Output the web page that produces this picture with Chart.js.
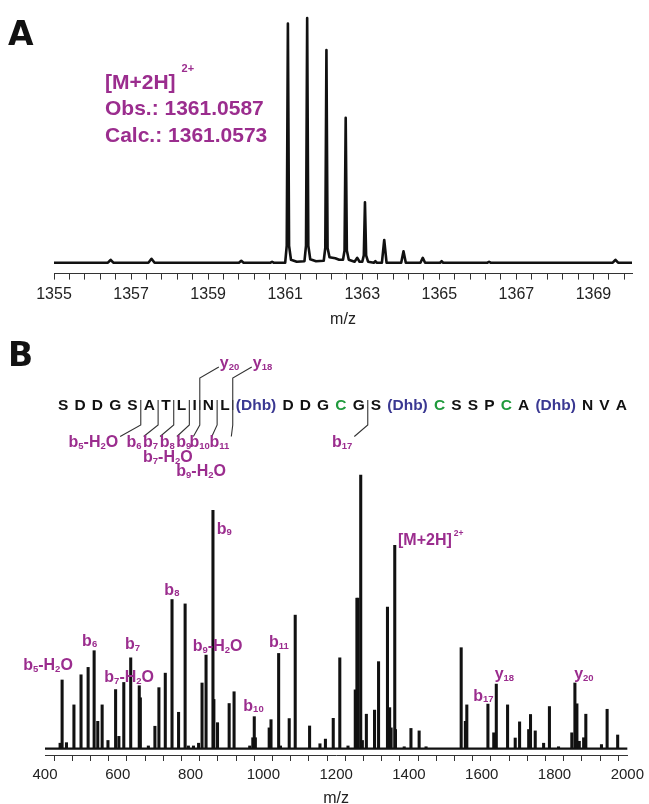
<!DOCTYPE html>
<html>
<head>
<meta charset="utf-8">
<script src="https://cdn.jsdelivr.net/npm/chart.js@4.4.1/dist/chart.umd.min.js"></script>
<style>
html, body { margin:0; padding:0; background:#fff; overflow:hidden; }
#wrap { position:relative; width:649px; height:804px; overflow:hidden; }
canvas { position:absolute; left:0; }
#chartA { top:0; }
#chartB { top:320px; }
</style>
</head>
<body>
<div id="wrap">
<canvas id="chartA" width="649" height="332"></canvas>
<canvas id="chartB" width="649" height="488"></canvas>
</div>
<script>
// panel A: isotope cluster of [M+2H]2+ (relative intensity)
var mzA = [1355.0,
    1356.40, 1356.47, 1356.54,
    1357.45, 1357.53, 1357.61,
    1359.80, 1359.86, 1359.92,
    1360.62, 1360.66, 1360.70,
    1361.00, 1361.04, 1361.07, 1361.10, 1361.15, 1361.30,
    1361.50, 1361.54, 1361.57, 1361.60, 1361.65, 1361.80,
    1362.00, 1362.04, 1362.07, 1362.10, 1362.15, 1362.30, 1362.40,
    1362.50, 1362.54, 1362.57, 1362.60, 1362.65, 1362.80, 1362.87, 1362.93,
    1363.00, 1363.04, 1363.07, 1363.10, 1363.15, 1363.30, 1363.34, 1363.38,
    1363.51, 1363.57, 1363.63,
    1364.01, 1364.07, 1364.13,
    1364.51, 1364.57, 1364.63,
    1365.02, 1365.06, 1365.10,
    1366.25, 1366.29, 1366.33,
    1369.50, 1369.57, 1369.64,
    1370.0];
var intA = [0,
    0, 0.012, 0,
    0, 0.016, 0,
    0, 0.008, 0,
    0, 0.004, 0,
    0, 0.07, 0.977, 0.07, 0.012, 0.004,
    0.006, 0.07, 1.0, 0.07, 0.014, 0.006,
    0.008, 0.06, 0.869, 0.06, 0.022, 0.018, 0.012,
    0.012, 0.05, 0.592, 0.05, 0.012, 0.004, 0.02, 0.004,
    0.004, 0.03, 0.247, 0.03, 0.004, 0, 0.006, 0,
    0, 0.093, 0,
    0, 0.047, 0,
    0, 0.02, 0,
    0, 0.006, 0,
    0, 0.004, 0,
    0, 0.012, 0,
    0];
var tickLabelsA = [1355, 1357, 1359, 1361, 1363, 1365, 1367, 1369];

// panel B: MS/MS spectrum (percent of base peak)
var mzB = [441.5, 447, 459, 479.5, 499, 518.5, 535, 545, 557, 573,
    594, 603, 616.5, 635.5, 659, 662, 684, 702, 713, 730.5,
    749, 767, 785, 794, 808, 822, 831.5, 842.5, 861.5, 864,
    874, 906, 919.5, 962.5, 971, 975, 978, 1016, 1021, 1042,
    1047, 1071, 1087.5, 1127, 1155.5, 1170.5, 1192, 1210, 1232.5, 1252.5,
    1257, 1260, 1267.5, 1272, 1283, 1305.5, 1316.5, 1341, 1347, 1351,
    1361, 1363, 1387, 1405.5, 1428, 1447, 1543.5, 1555, 1559, 1617,
    1633, 1640, 1671, 1692, 1704, 1729, 1734, 1747, 1770, 1786,
    1811, 1847.5, 1856, 1861.5, 1868, 1880, 1886, 1929, 1944.5, 1973.5];
var intB = [2, 25.1, 2.2, 16, 27, 29.7, 35.8, 10, 16, 3,
    21.6, 4.5, 24.2, 33.2, 23, 18.6, 1, 8.2, 22.3, 27.6,
    54.5, 13.3, 52.9, 1, 1, 2, 24, 34.2, 87.1, 18,
    9.5, 16.5, 20.8, 1, 4, 11.7, 4, 7.6, 10.6, 34.8,
    1, 11, 48.8, 8.3, 1.8, 3.5, 11.1, 33.2, 1, 21.5,
    55, 55, 100, 3, 12.6, 14.1, 31.8, 51.7, 15, 7.6,
    74.3, 7, 0.7, 7.4, 6.5, 0.7, 36.9, 10, 16, 16.3,
    5.8, 23.6, 16, 3.9, 9.8, 7, 12.5, 6.5, 2, 15.4,
    0.7, 5.8, 24, 16.4, 2.7, 4, 12.6, 1.5, 14.4, 5];
var tickLabelsB = [400, 600, 800, 1000, 1200, 1400, 1600, 1800, 2000];

// peptide sequence and fragment ions
var residues = ['S','D','D','G','S','A','T','L','I','N','L','(Dhb)','D','D','G','C','G','S','(Dhb)','C','S','S','P','C','A','(Dhb)','N','V','A'];
var bIonNames = ['b_5-H_2O', 'b_6', 'b_7', 'b_8', 'b_9', 'b_10', 'b_11', 'b_17'];
var bIonCuts = [5, 6, 7, 8, 9, 10, 11, 17];
var yIonNames = ['y_20', 'y_18'];
var yIonCuts = [9, 11];

var FONT = '"Liberation Sans", Arial, Helvetica, sans-serif';
var PURPLE = '#9b2d8e';
Chart.defaults.font.family = FONT;
Chart.defaults.color = '#222';

function parseRich(str) {
    var parts = [], buf = '', i = 0;
    while (i < str.length) {
        var c = str[i];
        if (c === '_') {
            if (buf) parts.push([buf, 'n']);
            buf = ''; i++;
            var s = '';
            while (i < str.length && /[0-9]/.test(str[i])) { s += str[i]; i++; }
            parts.push([s, 's']);
        } else if (c === '^') {
            if (buf) parts.push([buf, 'n']);
            buf = '';
            parts.push([str.slice(i + 1), 'p']);
            i = str.length;
        } else { buf += c; i++; }
    }
    if (buf) parts.push([buf, 'n']);
    return parts;
}

function drawRich(ctx, str, x, y, st) {
    ctx.save();
    ctx.fillStyle = st.color;
    ctx.textAlign = 'left';
    ctx.textBaseline = 'alphabetic';
    parseRich(str).forEach(function(p){
        if (p[1] === 'n') {
            ctx.font = 'bold ' + st.size + 'px ' + FONT;
            ctx.fillText(p[0], x, y);
        } else if (p[1] === 's') {
            ctx.font = 'bold ' + st.subSize + 'px ' + FONT;
            ctx.fillText(p[0], x, y + st.subDrop);
        } else {
            x += st.supGap;
            ctx.font = 'bold ' + st.supSize + 'px ' + FONT;
            ctx.fillText(p[0], x, y - st.supRise);
        }
        x += ctx.measureText(p[0]).width;
    });
    ctx.restore();
    return x;
}

var ionStyle = {size:16, subSize:9.5, subDrop:1.5, supSize:8.5, supRise:9, supGap:2, color:PURPLE};

function panelLetter(ctx, letter, x, y) {
    ctx.save();
    ctx.fillStyle = '#111';
    ctx.font = 'bold 33px "DejaVu Sans", ' + FONT;
    ctx.fillText(letter, x, y);
    ctx.restore();
}

var annotA = {
    id: 'annotA',
    afterDraw: function(chart){
        var ctx = chart.ctx;
        panelLetter(ctx, 'A', 8, 45);
        var st = {size:21, subSize:12, subDrop:2, supSize:11, supRise:17, supGap:6, color:PURPLE};
        drawRich(ctx, '[M+2H]^2+', 105, 89, st);
        drawRich(ctx, 'Obs.: 1361.0587', 105, 114.5, st);
        drawRich(ctx, 'Calc.: 1361.0573', 105, 141.5, st);
    }
};

// spectrum annotations: label text anchored at (m/z, % intensity) of its baseline-left corner
var notesB = [
    {t:'b_5-H_2O', mz:340, y:28.7},
    {t:'b_6', mz:502, y:37.7},
    {t:'b_7', mz:619.5, y:36.4},
    {t:'b_7-H_2O', mz:563, y:24.2},
    {t:'b_8', mz:728, y:56.2},
    {t:'b_9', mz:872, y:78.6},
    {t:'b_9-H_2O', mz:806, y:35.6},
    {t:'b_10', mz:945, y:13.8},
    {t:'b_11', mz:1015.6, y:37},
    {t:'[M+2H]^2+', mz:1370, y:74.3},
    {t:'b_17', mz:1576.8, y:17.5},
    {t:'y_18', mz:1635.6, y:25.4},
    {t:'y_20', mz:1854, y:25.4}
];

function drawSequence(ctx) {
    var top = 320;             // canvas offset on the page
    var base = 410 - top;      // sequence text baseline
    var x0 = 58, x1 = 627;
    ctx.save();
    ctx.font = 'bold 15.5px ' + FONT;
    var widths = residues.map(function(r){ return ctx.measureText(r).width; });
    var total = widths.reduce(function(a, b){ return a + b; }, 0);
    var gap = (x1 - x0 - total) / (residues.length - 1);
    var lefts = [], x = x0;
    residues.forEach(function(r, i){
        lefts.push(x);
        ctx.fillStyle = r === 'C' ? '#1f9a3c' : (r === '(Dhb)' ? '#3a3892' : '#111');
        ctx.fillText(r, x, base);
        x += widths[i] + gap;
    });
    ctx.restore();
    function cutX(k) { return (lefts[k - 1] + widths[k - 1] + lefts[k]) / 2; }

    // b-ion labels (left x on the page, row)
    var bLeft = [68.5, 126.6, 143, 159.8, 176.3, 189.5, 209.5, 332];
    var rowY = [447 - top, 462 - top, 476 - top];
    ctx.save();
    ctx.strokeStyle = '#333';
    ctx.lineWidth = 1.1;
    bIonNames.forEach(function(name, i){
        var right = drawRich(ctx, name, bLeft[i], rowY[0], ionStyle);
        var cx = cutX(bIonCuts[i]);
        ctx.beginPath();
        ctx.moveTo(cx, 400 - top);
        ctx.lineTo(cx, 425 - top);
        ctx.lineTo(right + 2, 436.5 - top);
        ctx.stroke();
    });
    drawRich(ctx, 'b_7-H_2O', 143, rowY[1], ionStyle);
    drawRich(ctx, 'b_9-H_2O', 176.3, rowY[2], ionStyle);
    yIonNames.forEach(function(name, i){
        var cx = cutX(yIonCuts[i]);
        ctx.beginPath();
        ctx.moveTo(cx, 410 - top);
        ctx.lineTo(cx, 378 - top);
        ctx.lineTo(cx + 19, 367 - top);
        ctx.stroke();
        drawRich(ctx, name, cx + 20, 368 - top, ionStyle);
    });
    ctx.restore();
}

var annotB = {
    id: 'annotB',
    beforeDatasetsDraw: function(chart){
        var ctx = chart.ctx, xs = chart.scales.x, ys = chart.scales.y;
        var y0 = ys.getPixelForValue(0);
        ctx.save();
        ctx.strokeStyle = '#111';
        ctx.lineWidth = 2.2;
        ctx.beginPath();
        ctx.moveTo(xs.left, y0);
        ctx.lineTo(xs.right, y0);
        ctx.stroke();
        ctx.restore();
    },
    afterDraw: function(chart){
        var ctx = chart.ctx, xs = chart.scales.x, ys = chart.scales.y;
        notesB.forEach(function(n){
            drawRich(ctx, n.t, xs.getPixelForValue(n.mz), ys.getPixelForValue(n.y), ionStyle);
        });
        panelLetter(ctx, 'B', 8, 366 - 320);
        drawSequence(ctx);
    }
};

var ticksA = [];
for (var v = 1355; v < 1370 - 1e-6; v += 0.4) ticksA.push(Math.round(v * 10) / 10);

function axisGrid() {
    return {display:true, drawOnChartArea:false, drawTicks:true, tickLength:6, tickColor:'#333', tickWidth:1};
}

new Chart(document.getElementById('chartA'), {
    type: 'line',
    data: {
        datasets: [{
            data: mzA.map(function(x, i){ return {x:x, y:intA[i]}; }),
            borderColor: '#111',
            borderWidth: 2.6,
            pointRadius: 0,
            tension: 0,
            borderJoinStyle: 'round',
            clip: false
        }]
    },
    options: {
        responsive: false,
        animation: false,
        devicePixelRatio: 1,
        layout: {padding: {left:54, right:17, top:18, bottom:3}},
        plugins: {legend: {display:false}, tooltip: {enabled:false}},
        scales: {
            x: {
                type: 'linear', min: 1355, max: 1370,
                afterBuildTicks: function(scale){ scale.ticks = ticksA.map(function(t){ return {value:t}; }); },
                grid: axisGrid(),
                border: {display:true, color:'#333', width:1},
                ticks: {
                    autoSkip:false, maxRotation:0, padding:5, color:'#222', font:{size:16},
                    callback: function(val){
                        var r = Math.round(val * 10) / 10;
                        return tickLabelsA.indexOf(r) >= 0 ? String(r) : '';
                    }
                },
                title: {display:true, text:'m/z', color:'#222', font:{size:16}, padding:{top:1, bottom:0}}
            },
            y: {display:false, min:-0.0445, max:1}
        }
    },
    plugins: [annotA]
});

new Chart(document.getElementById('chartB'), {
    type: 'bar',
    data: {
        datasets: [{
            data: mzB.map(function(x, i){ return {x:x, y:intB[i]}; }),
            backgroundColor: '#111',
            borderWidth: 0,
            barThickness: 2.4,
            clip: false
        }]
    },
    options: {
        responsive: false,
        animation: false,
        devicePixelRatio: 1,
        layout: {padding: {left:45, right:17, top:155, bottom:1}},
        plugins: {legend: {display:false}, tooltip: {enabled:false}},
        scales: {
            x: {
                type: 'linear', min: 400, max: 2000, offset: false,
                grid: axisGrid(),
                border: {display:true, color:'#333', width:1},
                ticks: {
                    stepSize:50, autoSkip:false, maxRotation:0, padding:5, color:'#222', font:{size:15},
                    callback: function(val){ return tickLabelsB.indexOf(val) >= 0 ? String(val) : ''; }
                },
                title: {display:true, text:'m/z', color:'#222', font:{size:16, lineHeight:1}, padding:{top:2, bottom:0}}
            },
            y: {display:false, min:-2.31, max:100}
        }
    },
    plugins: [annotB]
});
</script>
</body>
</html>
